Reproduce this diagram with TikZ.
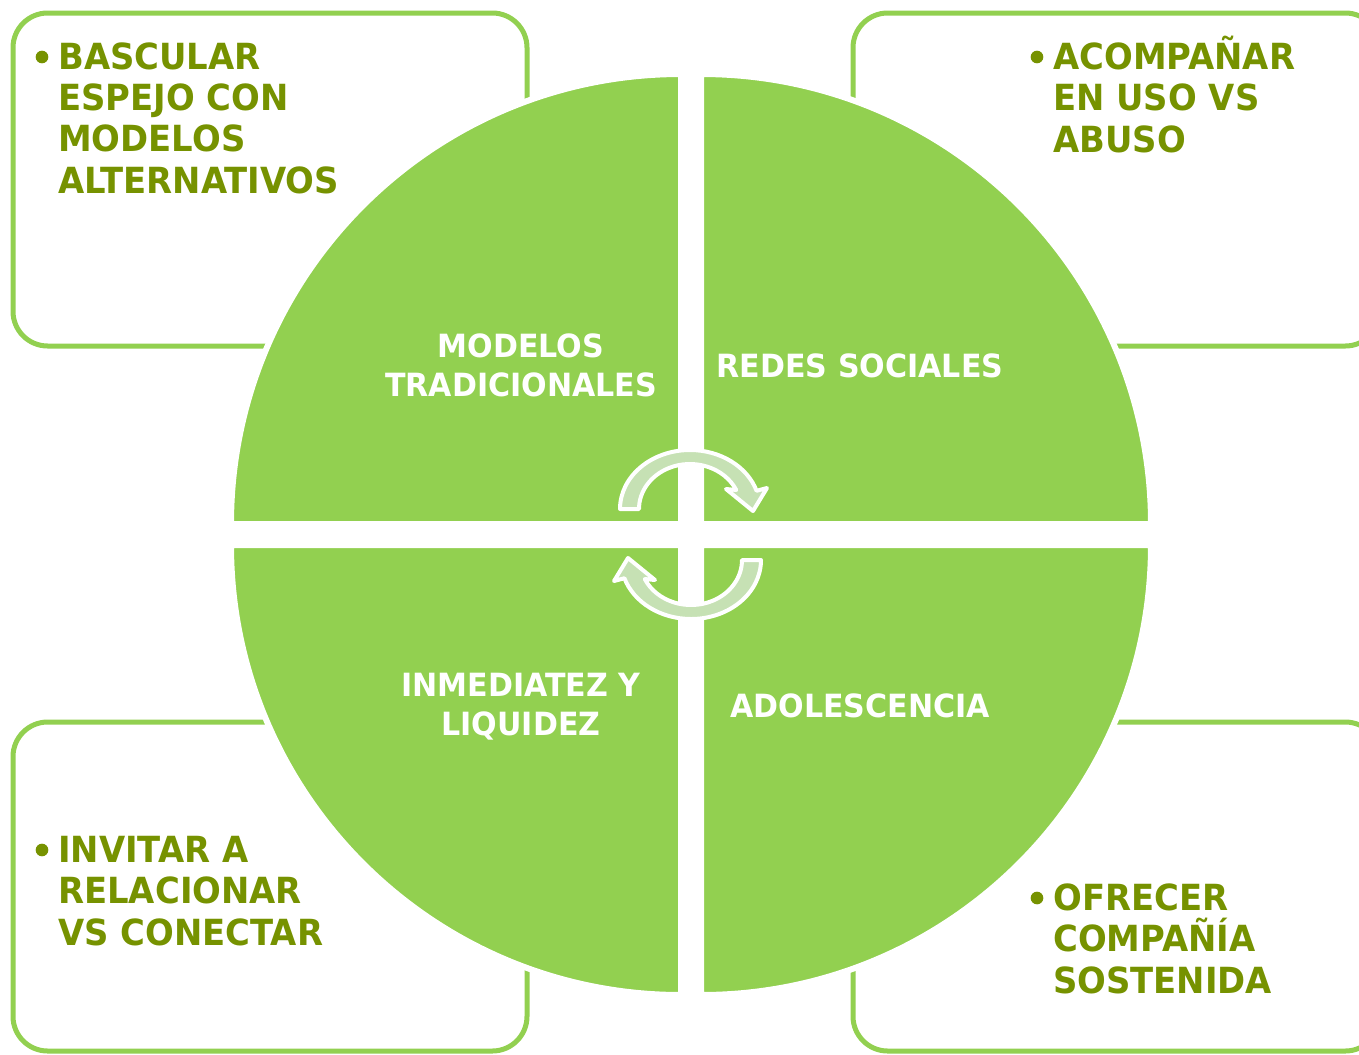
\documentclass[tikz,border=0pt]{standalone}
\usepackage{fontspec}
\newfontfamily\dispfont{DejaVu Sans}[FakeStretch=0.94]
\definecolor{lgreen}{RGB}{146,208,80}
\definecolor{dgreen}{RGB}{118,146,0}
\definecolor{agreen}{RGB}{198,225,180}
\begin{document}
\begin{tikzpicture}[x=0.75pt,y=-0.75pt,
 box/.style={draw=lgreen, line width=3.75pt, rounded corners=26pt},
 quad/.style={fill=lgreen, draw=white, line width=4.5pt},
 cyc/.style={fill=agreen, draw=white, line width=3pt, line join=round},
 boxtext/.style={text=dgreen, font=\dispfont\bfseries\fontsize{27}{31}\selectfont, align=left, anchor=base west, inner sep=0pt},
 qtext/.style={text=white, font=\dispfont\bfseries\fontsize{24}{29.25}\selectfont, align=center, anchor=base, inner sep=0pt},
 dot/.style={circle, fill=dgreen, minimum size=9.5pt, inner sep=0pt}]
\useasboundingbox (0,0) rectangle (1359,1054);
\clip (0,0) rectangle (1359,1054);
% boxes
\draw[box] (13,13) rectangle (527,346);
\draw[box] (853,13) rectangle (1380,346);
\draw[box] (13,722) rectangle (527,1051);
\draw[box] (853,722) rectangle (1380,1051);
% quadrants
\path[quad] (681,524) -- (231,524) arc[start angle=180,end angle=270,radius=450] -- cycle;
\path[quad] (701,524) -- (1151,524) arc[start angle=0,end angle=-90,radius=450] -- cycle;
\path[quad] (701,545) -- (1151,545) arc[start angle=0,end angle=90,radius=450] -- cycle;
\path[quad] (681,545) -- (231,545) arc[start angle=180,end angle=90,radius=450] -- cycle;
% cycle arrows
\begin{scope}[shift={(690,509)}]
\path[cyc] (-70,0) arc[start angle=180,end angle=342,x radius=70,y radius=59]
  -- (77,-21) -- (63,2) -- (36,-20) -- (335:51 and 45)
  arc[start angle=335,end angle=180,x radius=51,y radius=45] -- cycle;
\end{scope}
\begin{scope}[shift={(691,560)},rotate=180]
\path[cyc] (-70,0) arc[start angle=180,end angle=342,x radius=70,y radius=59]
  -- (77,-21) -- (63,2) -- (36,-20) -- (335:51 and 45)
  arc[start angle=335,end angle=180,x radius=51,y radius=45] -- cycle;
\end{scope}
% quadrant labels (anchor at last baseline)
\node[qtext] (q1) at (521,396) {MODELOS\\TRADICIONALES};
\node[qtext] (q2) at (860,377) {REDES SOCIALES};
\node[qtext] (q3) at (521,735) {INMEDIATEZ Y\\LIQUIDEZ};
\node[qtext] (q4) at (860,717) {ADOLESCENCIA};
% box texts (anchor at last baseline)
\node[dot] (b1) at (42,57) {};
\node[boxtext] (t1) at (58,193) {BASCULAR\\ESPEJO CON\\MODELOS\\ALTERNATIVOS};
\node[dot] (b2) at (1037,57) {};
\node[boxtext] (t2) at (1053,152) {ACOMPAÑAR\\EN USO VS\\ABUSO};
\node[dot] (b3) at (42,850) {};
\node[boxtext] (t3) at (58,945) {INVITAR A\\RELACIONAR\\VS CONECTAR};
\node[dot] (b4) at (1037,898) {};
\node[boxtext] (t4) at (1053,993) {OFRECER\\COMPAÑÍA\\SOSTENIDA};
\end{tikzpicture}
\end{document}
